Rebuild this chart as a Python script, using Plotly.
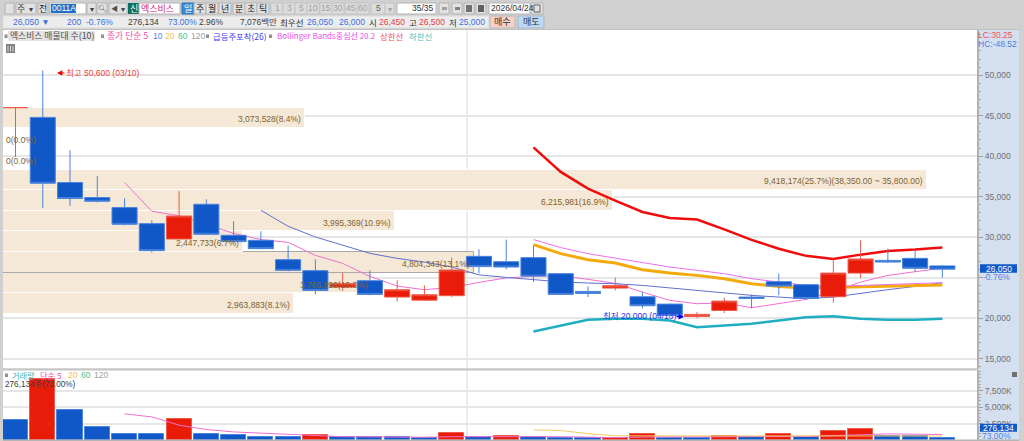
import plotly.graph_objects as go

W, H = 1024, 441
BLUE, RED = "#1058c8", "#e81c08"
BLUE_EDGE, RED_EDGE = "#4a84dc", "#ee5a48"
GRID = "#e6e6e6"
BAND = "#f5e8d6"
BAND_TEXT = "#806330"
KR = "Noto Sans CJK KR, Liberation Sans"
NUM = "Liberation Sans, Noto Sans CJK KR"

# Daily candles, oldest first
opens = [46000, 44790, 36750, 34890, 33650, 31670, 29770, 34060, 30230, 29610, 27220, 25860,
         23830, 24620, 22600, 22220, 22770, 27630, 26970, 27470, 25490, 23300, 23710, 22640,
         21730, 20210, 20950, 22600, 24500, 24130, 22640, 25560, 27130, 27380, 26450]
highs = [46000, 50600, 40740, 37530, 34800, 32080, 35670, 34680, 31960, 30720, 28990, 27260,
         25560, 25900, 24660, 24040, 27470, 28500, 29700, 28990, 25530, 23920, 25000, 23210,
         21820, 20740, 22520, 22930, 25490, 24170, 27350, 29610, 28580, 28370, 26500]
lows = [39900, 33600, 33850, 34300, 31460, 28120, 29730, 30290, 29360, 28500, 25770, 22930,
        23360, 22810, 22060, 22120, 22620, 25530, 26020, 24480, 22870, 22600, 23420, 21200,
        20100, 20000, 20620, 21230, 22840, 22310, 21900, 24950, 26800, 25690, 25000]
closes = [46000, 36660, 34770, 34430, 31590, 28330, 32610, 30350, 29450, 28580, 25900, 23420,
          24250, 22930, 23510, 22890, 25940, 26360, 26310, 25190, 22930, 23050, 24010, 21530,
          20330, 20460, 22100, 22430, 23960, 22430, 25560, 27300, 26920, 26150, 26050]
bar_index = list(range(len(closes)))

# Moving averages and bands; None before each series has enough history
ma5 = [None] * 4 + [36750, 33200, 32640, 31590, 30470, 29700, 29360, 27750, 26760, 25160, 23960,
                    23510, 23800, 24410, 24970, 25160, 25220, 24790, 24290, 23210, 22190, 21780,
                    21880, 21280, 21820, 22310, 23300, 24450, 25280, 25690, 26180]
momentum26 = [None] * 9 + [33320, 31340, 30020, 28990, 28000, 27380, 26920, 26310, 25340, 25030,
                           24750, 24480, 24330, 24250, 24040, 23710, 23420, 23140, 22810, 22600,
                           22400, 22600, 23090, 23510, 23920, 24380]
ma20 = [None] * 19 + [29080, 27960, 27220, 26800, 25980, 25560, 25280, 24870, 24250, 23920, 23710,
                      23800, 23860, 23920, 24010, 24080]
bb_mid = [None] * 19 + [29700, 28710, 27960, 27420, 26800, 26310, 25900, 25490, 24870, 24450,
                        24040, 23920, 24040, 24130, 24230, 24380]
bb_upper = [None] * 19 + [41080, 38060, 36000, 34500, 33110, 32370, 32170, 30970, 29670, 28560,
                          27690, 27300, 27840, 28290, 28460, 28710]
bb_lower = [None] * 19 + [18350, 19100, 19800, 19920, 19920, 19710, 18880, 19100, 19300, 19710,
                          20120, 20240, 19920, 19800, 19800, 19920]

# Traded volume per day with its averages
volume = [3150000, 9300000, 4530000, 1980000, 960000, 870000, 3250000, 960000, 760000, 460000,
          450000, 760000, 500000, 490000, 480000, 350000, 1070000, 500000, 660000, 500000,
          350000, 300000, 320000, 870000, 410000, 300000, 710000, 460000, 870000, 460000,
          1330000, 1730000, 610000, 600000, 276134]
vol_ma5 = [None] * 4 + [4010000, 3550000, 2290000, 1630000, 1260000, 1110000, 870000, 720000,
                        530000, 500000, 500000, 460000, 530000, 540000, 560000, 560000, 540000,
                        470000, 400000, 480000, 480000, 450000, 520000, 520000, 560000, 580000,
                        740000, 910000, 960000, 910000, 870000]
vol_ma20 = [None] * 19 + [1570000, 1480000, 1000000, 680000, 660000, 660000, 660000, 660000,
                          620000, 620000, 620000, 640000, 650000, 650000, 650000, 640000]

# Volume-by-price profile, lowest price bucket first
profile_low = [20500, 23050, 25600, 28150, 30700, 33250, 35800, 38350, 40900, 43450]
profile_high = [23050, 25600, 28150, 30700, 33250, 35800, 38350, 40900, 43450, 46000]
profile_volume = [2963883, 3765890, 4804343, 2447733, 3995369, 6215981, 9418174, 0, 0, 3073528]
profile_pct = [8.1, 10.3, 13.1, 6.7, 10.9, 16.9, 25.7, 0.0, 0.0, 8.4]
profile_peak_note = "(38,350.00 ~ 35,800.00)"

price_ticks = [15000, 20000, 25000, 30000, 35000, 40000, 45000, 50000]
price_tick_text = ["15,000", "20,000", "", "30,000", "35,000", "40,000", "45,000", "50,000"]
volume_ticks = [2500000, 5000000, 7500000]
volume_tick_text = ["2,500K", "5,000K", "7,500K"]

PLOT_LEFT, PLOT_RIGHT = 3, 977
X_RANGE = [-0.459, 35.27]
PROFILE_RANGE = [0, 9927000]


def fx(px):
    return px / W


def fy(py):
    return 1 - py / H


shapes = []
annotations = []


def box(x0, y0, x1, y1, fill=None, line=None, layer="below", lw=1):
    shapes.append(dict(type="rect", xref="paper", yref="paper", x0=fx(x0), x1=fx(x1),
                       y0=fy(y1), y1=fy(y0), fillcolor=fill, layer=layer,
                       line=dict(color=line, width=lw if line else 0)))


def label(x, y, text, color="#404040", size=9, family=KR, anchor="left"):
    annotations.append(dict(xref="paper", yref="paper", x=fx(x), y=fy(y), text=text,
                            showarrow=False, xanchor=anchor, yanchor="middle",
                            font=dict(color=color, size=size, family=family),
                            borderpad=0, borderwidth=0))


def arrow(x_tip, x_tail, y, color):
    annotations.append(dict(xref="paper", yref="paper", axref="pixel", ayref="pixel",
                            x=fx(x_tip), y=fy(y), ax=x_tail - x_tip, ay=0, text="",
                            showarrow=True, arrowhead=2, arrowsize=0.9, arrowwidth=1.2,
                            arrowcolor=color))


fig = go.Figure()

# Profile buckets sit lowest so the candles and averages stay readable on them
drawn = [i for i, v in enumerate(profile_volume) if v > 0]
peak_of_bars = 4804343
fig.add_trace(go.Bar(
    orientation="h", xaxis="x", yaxis="y", hoverinfo="skip",
    y=[(profile_low[i] + profile_high[i]) / 2 for i in drawn],
    x=[profile_volume[i] for i in drawn],
    width=[profile_high[i] - profile_low[i] for i in drawn],
    marker=dict(color=BAND,
                line=dict(width=1, color=["#a8a8a8" if profile_volume[i] == peak_of_bars else "#ffffff"
                                          for i in drawn])),
))

series = [
    (ma5, "#f070d0", 1),
    (momentum26, "#6070d0", 1),
    (ma20, "#f2ab0c", 3),
    (bb_mid, "#ea70ea", 1),
    (bb_upper, "#f00c0c", 2.5),
    (bb_lower, "#1eaec0", 2.5),
]
for values, colour, width in series:
    fig.add_trace(go.Scatter(x=bar_index, y=values, mode="lines", xaxis="x2", yaxis="y",
                             line=dict(color=colour, width=width), hoverinfo="skip"))

fig.add_trace(go.Candlestick(
    x=bar_index, open=opens, high=highs, low=lows, close=closes, xaxis="x3", yaxis="y",
    increasing=dict(line=dict(color=RED_EDGE, width=1), fillcolor=RED),
    decreasing=dict(line=dict(color=BLUE_EDGE, width=1), fillcolor=BLUE),
    hoverinfo="skip",
))

fig.add_trace(go.Bar(
    x=bar_index, y=volume, xaxis="x4", yaxis="y2", width=0.92, hoverinfo="skip",
    marker=dict(color=[RED if i and v > volume[i - 1] else BLUE for i, v in enumerate(volume)],
                line=dict(width=1, color=[RED_EDGE if i and v > volume[i - 1] else BLUE_EDGE
                                          for i, v in enumerate(volume)])),
))
fig.add_trace(go.Scatter(x=bar_index, y=vol_ma5, mode="lines", xaxis="x4", yaxis="y2",
                         line=dict(color="#f070d0", width=1), hoverinfo="skip"))
fig.add_trace(go.Scatter(x=bar_index, y=vol_ma20, mode="lines", xaxis="x4", yaxis="y2",
                         line=dict(color="#f6c860", width=1), hoverinfo="skip"))

# Profile captions, right-aligned on the end of each bucket
for i, v in enumerate(profile_volume):
    mid = (profile_low[i] + profile_high[i]) / 2
    text = f"{v:,}({profile_pct[i]:.1f}%)"
    if v == max(profile_volume):
        text += profile_peak_note
    annotations.append(dict(xref="x", yref="y", x=v, y=mid, text=text, showarrow=False,
                            xanchor="right" if v else "left", yanchor="middle", yshift=-1.5,
                            xshift=-2 if v else 1,
                            font=dict(color=BAND_TEXT, size=8.5, family=NUM)))

# Window chrome around the plot panes
box(977, 30, 1019, 441, fill="#d4e0f0")
box(PLOT_LEFT, 29, 1020, 30, fill="#c0c0c0")
box(3, 368.5, 977, 370.5, fill="#c4c4c4", layer="above")
box(3, 439.5, 1019, 441, fill="#b4b4b4", layer="above")
shapes.append(dict(type="line", xref="paper", yref="paper", x0=fx(467), x1=fx(467),
                   y0=0, y1=fy(30), layer="below", line=dict(color=GRID, width=1.5)))

# First toolbar row
BTN = "#e2e2e2"
EDGE = "#b4b4b4"
box(5, 3, 14, 14, fill=BTN, line=EDGE)
box(16, 3, 36, 14, fill=BTN, line=EDGE)
label(21, 8.5, "주", "#404040", 9, anchor="center")
label(31, 8.5, "▾", "#404040", 8, anchor="center")
box(38, 3, 48, 14, fill=BTN, line=EDGE)
label(43, 8.5, "전", "#202020", 9, anchor="center")
box(50, 3, 86, 14, fill="#ffffff", line=EDGE)
box(51, 4, 76, 13, fill="#2070c8")
label(52, 8.5, "0011A0", "#ffffff", 8.5, NUM)
box(87, 3, 96, 14, fill=BTN, line=EDGE)
label(91.5, 8.5, "▾", "#404040", 8, anchor="center")
box(97, 3, 107, 14, fill=BTN, line=EDGE)
label(102, 8.5, "🔍︎", "#404040", 7, anchor="center")
box(109, 3, 127, 14, fill=BTN, line=EDGE)
label(114, 8.5, "◀", "#505050", 7, anchor="center")
label(123, 8.5, "▾", "#404040", 8, anchor="center")
box(128, 3, 139, 14, fill="#0d6e5e")
label(133.5, 8.5, "신", "#ffffff", 9, anchor="center")
box(139, 3, 180, 14, fill="#ffffff", line=EDGE)
label(141, 8.5, "엑스비스", "#d02070", 9)
box(182, 3, 194, 14, fill="#3b8ad8", line="#2a70c0")
label(188, 8.5, "일", "#ffffff", 9, anchor="center")
for cx, text in [(200, "주"), (212, "월"), (225, "년"), (239, "분"), (251, "초"), (263, "틱")]:
    box(cx - 6, 3, cx + 6, 14, fill=BTN, line=EDGE)
    label(cx, 8.5, text, "#202020", 9, anchor="center")
for cx, text in [(277, "1"), (289, "3"), (301, "5"), (313, "10"), (326, "15"),
                 (338, "30"), (351, "45"), (363, "60")]:
    box(cx - 6, 3, cx + 6, 14, fill="#dcdcdc", line="#c4c4c4")
    label(cx, 8.5, text, "#a0a0a0", 8.5, NUM, "center")
box(371, 3, 385, 14, fill="#dcdcdc", line="#c4c4c4")
label(378, 8.5, "5", "#606060", 8.5, NUM, "center")
box(385, 3, 394, 14, fill="#dcdcdc", line="#c4c4c4")
label(389.5, 8.5, "▾", "#a0a0a0", 8, anchor="center")
box(397, 3, 436, 14, fill="#ffffff", line=EDGE)
label(434, 8.5, "35/35", "#303030", 8.5, NUM, "right")
for x0 in [438, 451, 463, 475]:
    box(x0 + 1, 3, x0 + 11, 14, fill=BTN, line=EDGE)
box(442, 7, 447, 10, fill="#a0a0a0")
box(455, 7, 460, 10, fill="#808080")
box(466, 5, 472, 12, fill="#707070")
box(478, 5, 484, 12, fill="#606060")
box(489, 3, 530, 14, fill="#ffffff", line=EDGE)
label(491, 8.5, "2026/04/24", "#303030", 8.5, NUM)
box(531, 3, 543, 14, fill=BTN, line=EDGE)
box(534, 5, 540, 12, line="#606060")

# Second toolbar row: quote strip and order buttons
box(3, 16, 489, 28, fill="#ececec", line="#dcdcdc")
QUOTE_BLUE = "#3a70e0"
QUOTE_RED = "#e84040"
for x, text, colour, anchor in [
    (50, "26,050 ▼", QUOTE_BLUE, "right"), (81, "200", QUOTE_BLUE, "right"),
    (113, "-0.76%", QUOTE_BLUE, "right"), (159, "276,134", "#404040", "right"),
    (197, "73.00%", QUOTE_BLUE, "right"), (224, "2.96%", "#404040", "right"),
    (333, "26,050", QUOTE_BLUE, "right"), (365, "26,000", QUOTE_BLUE, "right"),
    (405, "26,450", QUOTE_RED, "right"), (445, "26,500", QUOTE_RED, "right"),
    (485, "25,000", QUOTE_BLUE, "right"),
]:
    label(x, 22, text, colour, 8.5, NUM, anchor)
label(277, 22, "7,076백만", "#404040", 8.5, NUM, "right")
label(280, 22, "최우선", "#303030", 8.5)
label(369, 22, "시", "#303030", 8.5)
label(409, 22, "고", "#303030", 8.5)
label(449, 22, "저", "#303030", 8.5)
box(490, 16, 515, 28, fill="#f6cfc6", line="#b8b8b8")
label(502.5, 22, "매수", "#303030", 9, anchor="center")
box(518, 16, 544, 28, fill="#bcd8f4", line="#a8b8c8")
label(531, 22, "매도", "#303030", 9, anchor="center")

# Indicator legend
for x in [4.5, 101, 206, 269]:
    box(x, 34.5, x + 3, 38, fill="#909090", layer="above")
box(8, 31, 95, 41, fill="#e4e4e4", layer="above")
label(10, 36, "엑스비스 매물대 수(10)", "#505050", 8.8)
label(107, 36, "종가 단순 5", "#f050a8", 8.8)
label(153, 36, "10", "#5080e8", 8.5, NUM)
label(165, 36, "20", "#f8c050", 8.5, NUM)
label(178, 36, "60", "#50c080", 8.5, NUM)
label(191, 36, "120", "#a0a0a0", 8.5, NUM)
label(213, 36, "급등주포착(26)", "#4040f0", 8.4)
label(277, 36, "Bollinger Bands중심선 20.2", "#e850e8", 8)
label(380, 36, "상한선", "#f05050", 8.4)
label(409, 36, "하한선", "#40c0c0", 8.4)
box(6, 44, 15, 53, fill="#808080", layer="above")
for gx in [8, 10.5, 13]:
    box(gx - 0.5, 46, gx + 0.5, 51.5, fill="#d8d8d8", layer="above")

# Extreme price callouts
arrow(57, 66, 73, "#f00000")
label(66, 73, "최고 50,600 (03/10)", "#f04040", 8.5, NUM)
arrow(684, 675, 316.7, "#0000f0")
label(603, 316, "최저 20,000 (04/13)", "#3030e8", 8.5, NUM)

# Volume legend
box(5, 373.5, 8, 377, fill="#909090", layer="above")
label(12, 374.5, "거래량", "#50b0b0", 8.2)
label(40, 374.5, "단순 5", "#f050a8", 8.2)
label(68, 374.5, "20", "#f8c050", 8.5, NUM)
label(81, 374.5, "60", "#50c080", 8.5, NUM)
label(94, 374.5, "120", "#a0a0a0", 8.5, NUM)
label(5, 384.5, "276,134주(73.00%)", "#404040", 8.2, NUM)

# Right-hand scale annotations
label(978, 35, "LC:30.25", "#f05050", 8.5, NUM)
label(978, 44, "HC:-48.52", "#4a80e0", 8.5, NUM)
box(980, 264.3, 1017, 272.8, fill=BLUE, layer="above")
label(998.5, 268.5, "26,050", "#ffffff", 8.5, NUM, "center")
label(996.5, 277, "-0.76%", "#5080e0", 8.5, NUM, "center")
box(980, 423.7, 1017, 431.7, fill=BLUE, layer="above")
label(998.5, 427.8, "276,134", "#ffffff", 8.5, NUM, "center")
label(996.5, 435.5, "73.00%", "#5080e0", 8.5, NUM, "center")
box(1012, 372, 1017, 377, fill="#707070", layer="above")

x_domain = [fx(PLOT_LEFT), fx(PLOT_RIGHT)]
hidden_x = dict(domain=x_domain, visible=False, fixedrange=True)
axis_common = dict(side="right", ticks="outside", ticklen=4, tickcolor="#9a9a9a",
                   showline=True, linecolor="#b0b0b0", linewidth=2, gridcolor=GRID, gridwidth=1.5,
                   zeroline=False, tickfont=dict(color="#707070", size=8.5, family=NUM))

fig.update_layout(
    width=W, height=H, margin=dict(l=0, r=0, t=0, b=0), autosize=False,
    paper_bgcolor="#d0d0d0", plot_bgcolor="#ffffff", showlegend=False, boxgap=0.08, boxgroupgap=0,
    bargap=0, font=dict(family=KR),
    xaxis=dict(hidden_x, range=PROFILE_RANGE, anchor="y"),
    xaxis2=dict(hidden_x, range=X_RANGE, overlaying="x", anchor="y", rangeslider=dict(visible=False)),
    xaxis3=dict(hidden_x, range=X_RANGE, overlaying="x", anchor="y", rangeslider=dict(visible=False)),
    xaxis4=dict(hidden_x, range=X_RANGE, anchor="y2"),
    yaxis=dict(axis_common, domain=[fy(368.5), fy(30)], range=[13778, 55584], anchor="x",
               tickmode="array", tickvals=price_ticks, ticktext=price_tick_text,
               minor=dict(dtick=1000, ticks="outside", ticklen=2, tickcolor="#a8a8a8", showgrid=False)),
    yaxis2=dict(axis_common, domain=[0, fy(370)], range=[-122000, 10698000], anchor="x4",
                tickmode="array", tickvals=volume_ticks, ticktext=volume_tick_text,
                minor=dict(dtick=500000, ticks="outside", ticklen=2, tickcolor="#a8a8a8", showgrid=False)),
    shapes=shapes, annotations=annotations,
)

fig.write_html("out.html", config=dict(displayModeBar=False))
